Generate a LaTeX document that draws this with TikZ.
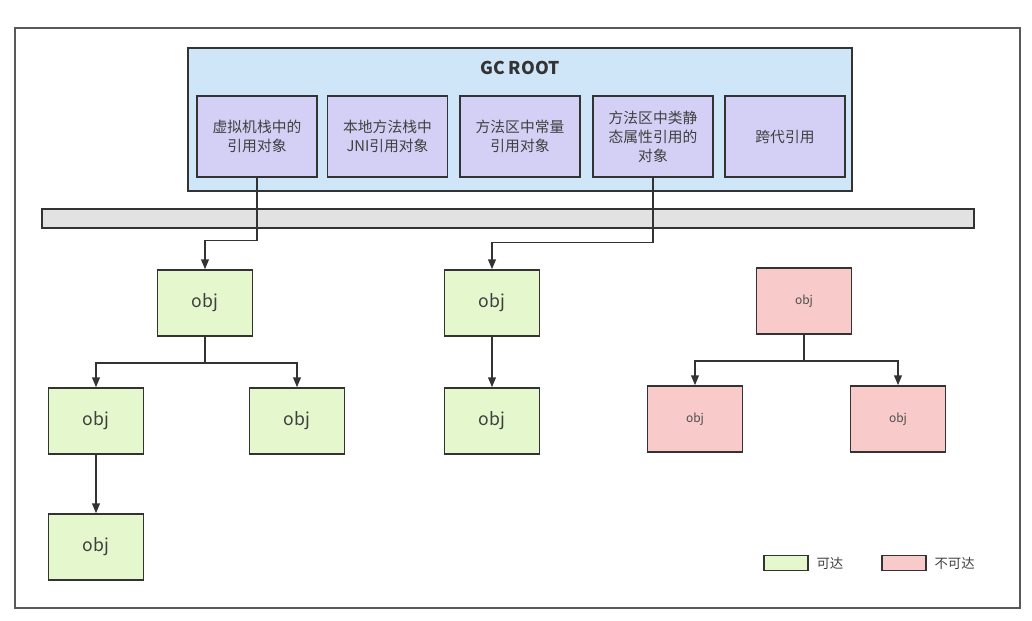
\documentclass[tikz,border=0pt]{standalone}
\usepackage{fontspec}
\newfontfamily\cjk{Noto Sans CJK SC}
\usetikzlibrary{positioning,arrows.meta}
\definecolor{rootblue}{HTML}{CFE6F8}
\definecolor{srcpurple}{HTML}{D3CFF5}
\definecolor{livegreen}{HTML}{E4F7CD}
\definecolor{deadpink}{HTML}{F8CACA}
\definecolor{heapgray}{HTML}{E2E2E2}
\definecolor{edge}{HTML}{333333}
\tikzset{
  src/.style={draw=edge, line width=1.1pt, fill=srcpurple, minimum width=3cm, minimum height=2.02cm,
    align=center, font=\cjk\fontsize{10.5}{13.5}\selectfont, text=black!75},
  live/.style={draw=edge, line width=1.1pt, fill=livegreen, minimum width=2.37cm, minimum height=1.65cm,
    font=\cjk\fontsize{12.5}{14}\selectfont, text=black!75},
  dead/.style={draw=edge, line width=1.1pt, fill=deadpink, minimum width=2.37cm, minimum height=1.65cm,
    font=\cjk\fontsize{8.5}{10}\selectfont, text=black!70},
  ref/.style={->, draw=edge, line width=1.1pt},
  keybox/.style={draw=edge, line width=1.1pt, minimum width=1.1cm, minimum height=0.38cm, inner sep=0pt}
}
\begin{document}
\begin{tikzpicture}[>={Triangle[length=7pt,width=5.5pt]}, x=0.025cm, y=-0.025cm]
\useasboundingbox[fill=white] (0,0) rectangle (1032,620);
    \draw[black!65, line width=1.2pt](15,28) rectangle (1020,608);
% GC roots
    \node (gcroot)[draw=edge, line width=1.1pt, fill=rootblue, minimum width=16.6cm, minimum height=3.57cm] at (520,119.5){};
    \node (title) at (520,68)[font=\cjk\bfseries\fontsize{12.5}{14}\selectfont, text=black!80]{GC ROOT};
    \node (vm)[src] at (257,136.5){虚拟机栈中的\\引用对象};
    \node (jni)[src] at (387.5,136.5){本地方法栈中\\JNI引用对象};
    \node (const)[src] at (520,136.5){方法区中常量\\引用对象};
    \node (static)[src] at (653,136.5){方法区中类静\\态属性引用的\\对象};
    \node (cross)[src] at (785,136.5){跨代引用};
% heap bar
    \node (heap)[draw=edge, line width=1.1pt, fill=heapgray, minimum width=23.3cm, minimum height=0.47cm] at (508,218.5){};
% reachable objects
    \node (objA)[live] at (205,303){obj};
    \node (objB)[live] at (96,421){obj};
    \node (objC)[live] at (297,421){obj};
    \node (objD)[live] at (96,547){obj};
    \node (objE)[live] at (492,303){obj};
    \node (objF)[live] at (492,421){obj};
% unreachable objects
    \node (objP)[dead] at (804,301){obj};
    \node (objQ)[dead] at (695,419){obj};
    \node (objR)[dead] at (898,419){obj};
% references
    \draw[ref](vm.south)--++(0,63)-|(objA.north);
    \draw[ref](static.south)--++(0,65)-|(objE.north);
    \draw[ref](objA.south)--++(0,26)-|(objB.north);
    \draw[ref](objA.south)--++(0,26)-|(objC.north);
    \draw[ref](objB)--(objD);
    \draw[ref](objE)--(objF);
    \draw[ref](objP.south)--++(0,26)-|(objQ.north);
    \draw[ref](objP.south)--++(0,26)-|(objR.north);
% legend
    \node (keylive)[keybox, fill=livegreen] at (786,563){};
    \node (keylivetext)[right=2pt of keylive, font=\cjk\fontsize{9.5}{11}\selectfont, text=black!75]{可达};
    \node (keydead)[keybox, fill=deadpink] at (904,563){};
    \node (keydeadtext)[right=2pt of keydead, font=\cjk\fontsize{9.5}{11}\selectfont, text=black!75]{不可达};
\end{tikzpicture}
\end{document}
